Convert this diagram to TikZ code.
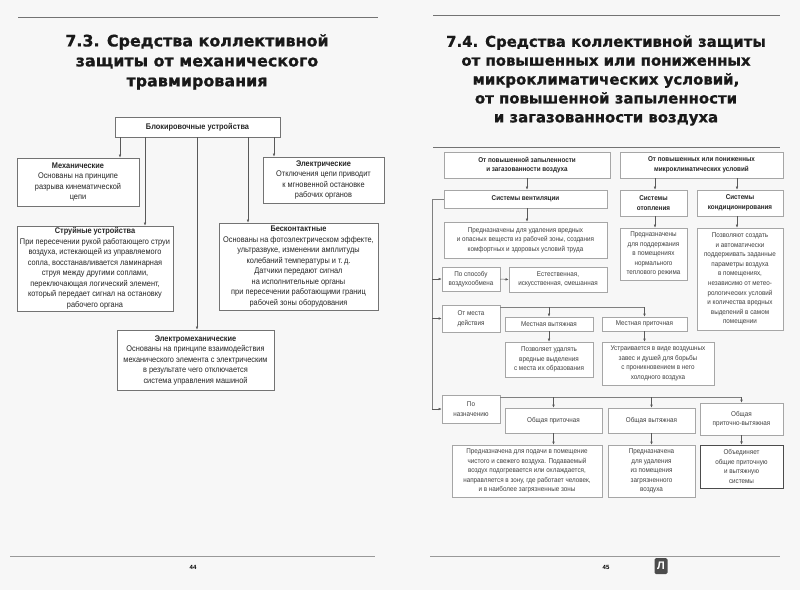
\documentclass[tikz,border=0pt]{standalone}
\usepackage{fontspec}
\setmainfont{Liberation Sans}
\newfontfamily\nar[FakeStretch=0.9]{Liberation Sans}
\newfontfamily\titf[FakeBold=0.8]{DejaVu Sans}
\usetikzlibrary{arrows.meta}
\newcommand\bx[7]{\node[#6, minimum width={#4-#2}, minimum height={#5-#3}] (#1) at ({(#2+#4)/2},{(#3+#5)/2}) {#7};}
\begin{document}
\begin{tikzpicture}[x=1pt,y=-1pt,
  lbox/.style={draw=black!55, line width=0.6pt, fill=white, inner sep=0pt, align=center, text=black!85, font=\nar\fontsize{8.2}{10.5}\selectfont},
  rbox/.style={draw=black!35, line width=0.5pt, fill=white, inner sep=0pt, align=center, text=black!75, font=\nar\fontsize{7}{9.6}\selectfont},
  rboxb/.style={rbox, text=black!85, font=\nar\bfseries\fontsize{7}{9.6}\selectfont},
  arr/.style={-{Latex[length=3.2pt,width=2.6pt]}, draw=black!65, line width=0.5pt},
  ln/.style={draw=black!50, line width=0.5pt},
  rule/.style={draw=black!55, line width=0.8pt},
  ttl/.style={align=center, font=\titf\bfseries\fontsize{15.9}{20}\selectfont, text=black!90}]
\useasboundingbox[fill=black!3] (0,0) rectangle (800,590);
% ---------- left page ----------
\coordinate (lt1) at (18,17); \coordinate (lt2) at (378,17);
\draw[rule] (lt1) -- (lt2);
\node[ttl] (ltitle) at (197,62) {7.3. Средства коллективной\\защиты от механического\\травмирования};
\bx{blk}{115}{117}{280}{137}{lbox}{\bfseries Блокировочные устройства}
\bx{mech}{17}{158}{139}{206}{lbox}{\bfseries Механические\\Основаны на принципе\\разрыва кинематической\\цепи}
\bx{elec}{263}{157}{384}{203}{lbox}{\bfseries Электрические\\Отключения цепи приводит\\к мгновенной остановке\\рабочих органов}
\bx{jet}{17}{226}{173}{311}{lbox}{\bfseries Струйные устройства\\При пересечении рукой работающего струи\\воздуха, истекающей из управляемого\\сопла, восстанавливается ламинарная\\струя между другими соплами,\\переключающая логический элемент,\\который передает сигнал на остановку\\рабочего органа}
\bx{ncont}{219}{223}{378}{310}{lbox}{\bfseries Бесконтактные\\Основаны на фотоэлектрическом эффекте,\\ультразвуке, изменении амплитуды\\колебаний температуры и т.\,д.\\Датчики передают сигнал\\на исполнительные органы\\при пересечении работающими границ\\рабочей зоны оборудования}
\bx{emech}{117}{330}{274}{390}{lbox}{\bfseries Электромеханические\\Основаны на принципе взаимодействия\\механического элемента с электрическим\\в результате чего отключается\\система управления машиной}
\coordinate (a1) at (120,0); \coordinate (a2) at (145,0); \coordinate (a3) at (197,0);
\coordinate (a4) at (248,0); \coordinate (a5) at (274,0);
\draw[arr] (blk.south -| a1) -- (mech.north -| a1);
\draw[arr] (blk.south -| a2) -- (jet.north -| a2);
\draw[arr] (blk.south -| a3) -- (emech.north -| a3);
\draw[arr] (blk.south -| a4) -- (ncont.north -| a4);
\draw[arr] (blk.south -| a5) -- (elec.north -| a5);
\coordinate (lb1) at (10,556); \coordinate (lb2) at (375,556);
\draw[draw=black!40, line width=0.8pt] (lb1) -- (lb2);
\node[font=\bfseries\fontsize{6}{7}\selectfont] (p44) at (193,567) {44};
% ---------- right page ----------
\coordinate (rt1) at (433,15); \coordinate (rt2) at (780,15);
\draw[rule] (rt1) -- (rt2);
\node[ttl, font=\titf\bfseries\fontsize{14.9}{18.9}\selectfont] (rtitle) at (606,80.5) {7.4. Средства коллективной защиты\\от повышенных или пониженных\\микроклиматических условий,\\от повышенной запыленности\\и загазованности воздуха};
\coordinate (rt3) at (433,147); \coordinate (rt4) at (780,147);
\draw[rule] (rt3) -- (rt4);
\bx{h1}{444}{152}{610}{178}{rboxb}{От повышенной запыленности\\и загазованности воздуха}
\bx{h2}{620}{152}{783}{178}{rboxb}{От повышенных или пониженных\\микроклиматических условий}
\bx{vent}{444}{190}{607}{208}{rboxb}{Системы вентиляции}
\bx{heat}{620}{190}{687}{216}{rboxb}{Системы\\отопления}
\bx{cond}{697}{190}{783}{216}{rboxb}{Системы\\кондиционирования}
\bx{ventd}{444}{222}{607}{258}{rbox}{Предназначены для удаления вредных\\и опасных веществ из рабочей зоны, создания\\комфортных и здоровых условий труда}
\bx{heatd}{620}{228}{687}{280}{rbox}{Предназначены\\для поддержания\\в помещениях\\нормального\\теплового режима}
\bx{condd}{697}{228}{783}{330}{rbox}{Позволяют создать\\и автоматически\\поддерживать заданные\\параметры воздуха\\в помещениях,\\независимо от метео-\\рологических условий\\и количества вредных\\выделений в самом\\помещении}
\bx{spos}{442}{267}{500}{291}{rbox}{По способу\\воздухообмена}
\bx{spos2}{509}{267}{607}{292}{rbox}{Естественная,\\искусственная, смешанная}
\bx{mesto}{442}{305}{500}{332}{rbox}{От места\\действия}
\bx{mv}{505}{317}{593}{331}{rbox}{Местная вытяжная}
\bx{mp}{602}{317}{687}{331}{rbox}{Местная приточная}
\bx{mvd}{505}{342}{593}{377}{rbox}{Позволяет удалять\\вредные выделения\\с места их образования}
\bx{mpd}{602}{342}{714}{385}{rbox}{Устраивается в виде воздушных\\завес и душей для борьбы\\с проникновением в него\\холодного воздуха}
\bx{nazn}{442}{395}{500}{423}{rbox}{По\\назначению}
\bx{op}{505}{408}{602}{433}{rbox}{Общая приточная}
\bx{ov}{608}{408}{695}{433}{rbox}{Общая вытяжная}
\bx{opv}{700}{403}{783}{435}{rbox}{Общая\\приточно-вытяжная}
\bx{opd}{452}{445}{602}{497}{rbox}{Предназначена для подачи в помещение\\чистого и свежего воздуха. Подаваемый\\воздух подогревается или охлаждается,\\направляется в зону, где работает человек,\\и в наиболее загрязненные зоны}
\bx{ovd}{608}{445}{695}{497}{rbox}{Предназначена\\для удаления\\из помещения\\загрязненного\\воздуха}
\bx{opvd}{700}{445}{783}{488}{rbox, draw=black!70, line width=0.7pt}{Объединяет\\общие приточную\\и вытяжную\\системы}
\coordinate (b1) at (527,0); \coordinate (b2) at (655,0); \coordinate (b3) at (737,0);
\draw[arr] (h1.south -| b1) -- (vent.north -| b1);
\draw[arr] (vent.south -| b1) -- (ventd.north -| b1);
\draw[arr] (h2.south -| b2) -- (heat.north -| b2);
\draw[arr] (h2.south -| b3) -- (cond.north -| b3);
\draw[arr] (heat.south -| b2) -- (heatd.north -| b2);
\draw[arr] (cond.south -| b3) -- (condd.north -| b3);
% left bracket
\coordinate (bl) at (432,0);
\draw[ln] (vent.west) -- (vent.west -| bl) -- (nazn.west -| bl);
\draw[arr] (spos.west -| bl) -- (spos.west);
\draw[arr] (mesto.west -| bl) -- (mesto.west);
\draw[arr] (nazn.west -| bl) -- (nazn.west);
\draw[arr] (spos.east) -- (spos2.west);
% local
\coordinate (my) at (0,307);
\draw[ln] (mesto.east |- my) -- (mp.north |- my);
\draw[arr] (mv.north |- my) -- (mv.north);
\draw[arr] (mp.north |- my) -- (mp.north);
\draw[arr] (mv.south) -- (mvd.north -| mv.south);
\draw[arr] (mp.south) -- (mpd.north -| mp.south);
% general
\coordinate (ny) at (0,397);
\draw[ln] (nazn.east |- ny) -- (opv.north |- ny);
\draw[arr] (op.north |- ny) -- (op.north);
\draw[arr] (ov.north |- ny) -- (ov.north);
\draw[arr] (opv.north |- ny) -- (opv.north);
\draw[arr] (op.south) -- (opd.north -| op.south);
\draw[arr] (ov.south) -- (ovd.north -| ov.south);
\draw[arr] (opv.south) -- (opvd.north -| opv.south);
\coordinate (rb1) at (430,556); \coordinate (rb2) at (780,556);
\draw[draw=black!40, line width=0.8pt] (rb1) -- (rb2);
\node[font=\bfseries\fontsize{6}{7}\selectfont] (p45) at (606,567) {45};
\node[fill=black!70, rounded corners=1.5pt, text=white, font=\bfseries\fontsize{11}{12}\selectfont, minimum width=13pt, minimum height=16pt, inner sep=0pt] (logo) at (661,566) {Л};
\end{tikzpicture}
\end{document}
